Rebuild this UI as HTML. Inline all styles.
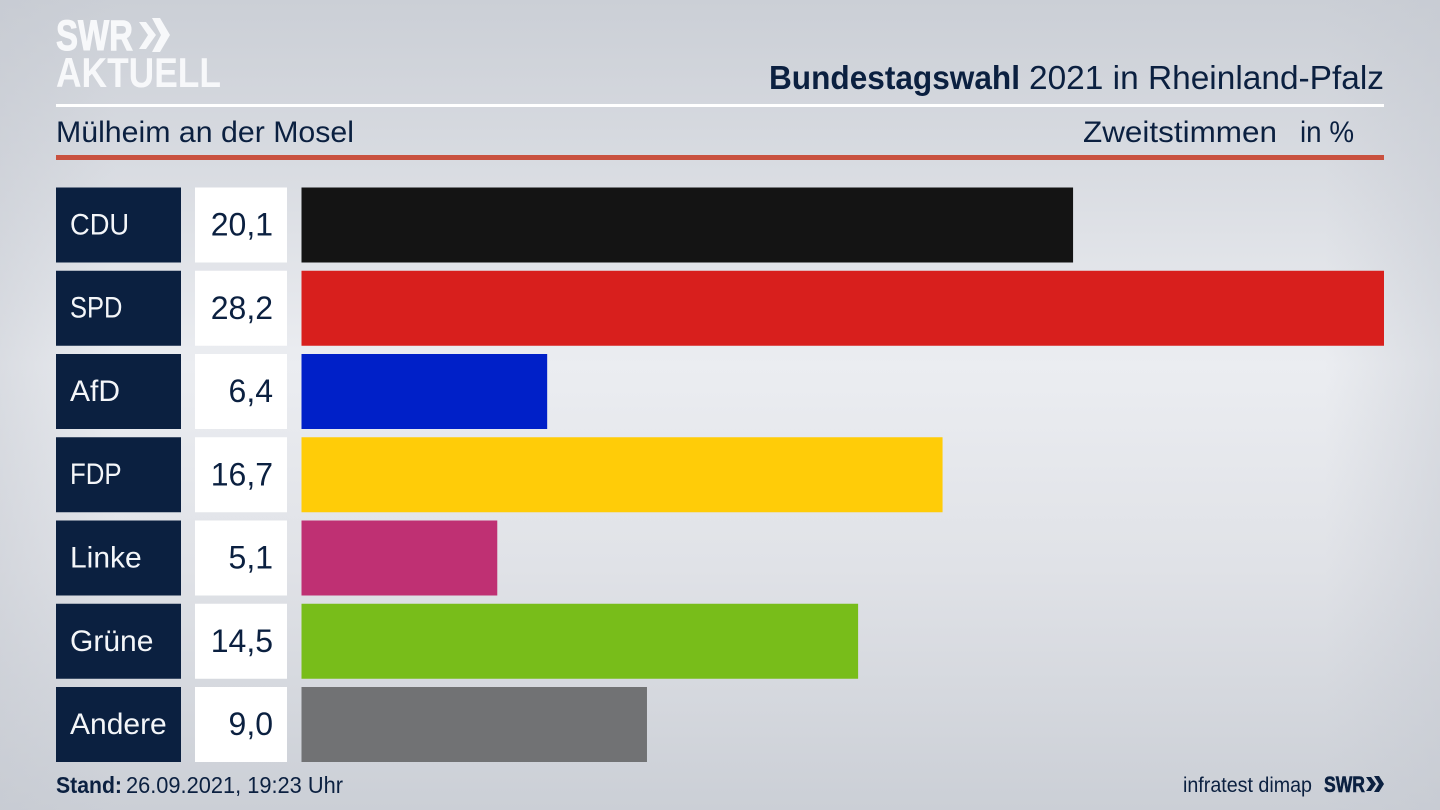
<!DOCTYPE html>
<html lang="de">
<head>
<meta charset="utf-8">
<title>Bundestagswahl 2021 in Rheinland-Pfalz – Mülheim an der Mosel</title>
<style>
  html, body { margin: 0; padding: 0; width: 1440px; height: 810px; overflow: hidden; background: #d5d8de; }
  svg { display: block; font-family: "Liberation Sans", sans-serif; }
  .ink { fill: #0b2040; }
  .label-box { fill: #0b2040; }
  .value-box { fill: #ffffff; }
  .label-text { fill: #f4f6f9; font-size: 30px; transform-box: fill-box; transform-origin: left center; }
  .label-cdu { transform: scaleX(0.91); }
  .label-spd { transform: scaleX(0.85); }
  .label-fdp { transform: scaleX(0.86); }
  .value-text { fill: #0b2040; font-size: 32px; text-anchor: end; }
  .bar-cdu { fill: #141414; }
  .bar-spd { fill: #d81f1d; }
  .bar-afd { fill: #0020c8; }
  .bar-fdp { fill: #ffcc08; }
  .bar-linke { fill: #bf3073; }
  .bar-gruene { fill: #78bd1a; }
  .bar-andere { fill: #717274; }
</style>
</head>
<body>
<svg id="chart" xmlns="http://www.w3.org/2000/svg" width="1440" height="810" viewBox="0 0 1440 810">
  <defs>
    <linearGradient id="bg-vertical" gradientUnits="userSpaceOnUse" x1="0" y1="0" x2="0" y2="810">
      <stop offset="0" stop-color="#cbcfd6"/>
      <stop offset="0.2" stop-color="#d8dbe1"/>
      <stop offset="0.45" stop-color="#ebedf1"/>
      <stop offset="0.7" stop-color="#e0e2e7"/>
      <stop offset="1" stop-color="#cbcfd6"/>
    </linearGradient>
    <linearGradient id="bg-sides" gradientUnits="userSpaceOnUse" x1="0" y1="0" x2="1440" y2="0">
      <stop offset="0" stop-color="#c4c8d0" stop-opacity="0.45"/>
      <stop offset="0.08" stop-color="#c4c8d0" stop-opacity="0"/>
      <stop offset="0.92" stop-color="#c4c8d0" stop-opacity="0"/>
      <stop offset="1" stop-color="#c4c8d0" stop-opacity="0.45"/>
    </linearGradient>
  </defs>
  <rect x="0" y="0" width="1440" height="810" fill="url(#bg-vertical)"/>
  <rect x="0" y="0" width="1440" height="810" fill="url(#bg-sides)"/>

  <g fill="#f7f8fa">
    <text x="56" y="50" font-size="43" font-weight="700" textLength="77" lengthAdjust="spacingAndGlyphs" stroke="#f7f8fa" stroke-width="1">SWR</text>
    <polygon points="139,22 146,22 156,35 146,49 139,49 148,35"/>
    <polygon points="152,18 160,18 170,35 160,52 152,52 161,35"/>
    <text x="56" y="87" font-size="42" font-weight="700" textLength="165" lengthAdjust="spacingAndGlyphs">AKTUELL</text>
  </g>

  <text class="ink" y="89" font-size="33">
    <tspan x="769" font-weight="700" textLength="251" lengthAdjust="spacingAndGlyphs">Bundestagswahl</tspan>
    <tspan x="1029" textLength="355" lengthAdjust="spacingAndGlyphs">2021 in Rheinland-Pfalz</tspan>
  </text>
  <rect x="56" y="104" width="1328" height="3" fill="#ffffff"/>
  <text class="ink" x="56" y="142" font-size="30" textLength="298" lengthAdjust="spacingAndGlyphs">Mülheim an der Mosel</text>
  <text class="ink" x="1083" y="142" font-size="30" textLength="194" lengthAdjust="spacingAndGlyphs">Zweitstimmen</text>
  <text class="ink" x="1300" y="142" font-size="30" textLength="54" lengthAdjust="spacingAndGlyphs">in %</text>
  <rect x="56" y="155" width="1328" height="5" fill="#c9513f"/>

  <g id="rows"></g>

  <text class="ink" y="793" font-size="23">
    <tspan x="56" font-weight="700" textLength="66" lengthAdjust="spacingAndGlyphs">Stand:</tspan>
    <tspan x="126" textLength="217" lengthAdjust="spacingAndGlyphs">26.09.2021, 19:23 Uhr</tspan>
  </text>
  <text class="ink" x="1183" y="792" font-size="21" textLength="129" lengthAdjust="spacingAndGlyphs">infratest dimap</text>
  <g fill="#0b2040">
    <text x="1324" y="792" font-size="22" font-weight="700" textLength="41" lengthAdjust="spacingAndGlyphs" stroke="#0b2040" stroke-width="0.6">SWR</text>
    <polygon points="1366,777 1371,777 1376,784 1371,791 1366,791 1371,784"/>
    <polygon points="1374,776 1379,776 1384,784 1379,792 1374,792 1379,784"/>
  </g>
</svg>

<script>
const categories = ['CDU', 'SPD', 'AfD', 'FDP', 'Linke', 'Grüne', 'Andere'];
const seriesKeys = ['cdu', 'spd', 'afd', 'fdp', 'linke', 'gruene', 'andere'];
const seriesValues = [20.1, 28.2, 6.4, 16.7, 5.1, 14.5, 9.0];

const SVG_NS = 'http://www.w3.org/2000/svg';
const rowsGroup = document.getElementById('rows');

const barLeft = 301.5;
const barRight = 1384;
const rowTop = 187.5;
const rowStep = 83.25;
const rowHeight = 75;

function xScale(value) {
  const maxValue = Math.max.apply(null, seriesValues);
  return (value / maxValue) * (barRight - barLeft);
}
function yScale(index) {
  return rowTop + index * rowStep;
}
function formatValue(value) {
  return value.toFixed(1).replace('.', ',');
}
function makeSvg(tag, attrs) {
  const node = document.createElementNS(SVG_NS, tag);
  Object.keys(attrs).forEach(function (key) {
    node.setAttribute(key, attrs[key]);
  });
  return node;
}

categories.forEach(function (category, i) {
  const y = yScale(i);
  const key = seriesKeys[i];

  const labelBox = makeSvg('rect', { x: 56, y: y, width: 125, height: rowHeight, class: 'label-box' });
  
  
  rowsGroup.appendChild(labelBox);

  const labelText = makeSvg('text', { x: 70, y: y + 47, class: 'label-text label-' + key });
  
  
  labelText.textContent = category;
  rowsGroup.appendChild(labelText);

  const valueBox = makeSvg('rect', { x: 195, y: y, width: 92, height: rowHeight, class: 'value-box' });
  
  
  rowsGroup.appendChild(valueBox);

  const valueText = makeSvg('text', { x: 273, y: y + 48, class: 'value-text' });
  
  
  valueText.textContent = formatValue(seriesValues[i]);
  rowsGroup.appendChild(valueText);

  const bar = makeSvg('rect', { x: barLeft, y: y, width: xScale(seriesValues[i]), height: rowHeight, class: 'bar-' + key });
  
  
  rowsGroup.appendChild(bar);
});
</script>
</body>
</html>
